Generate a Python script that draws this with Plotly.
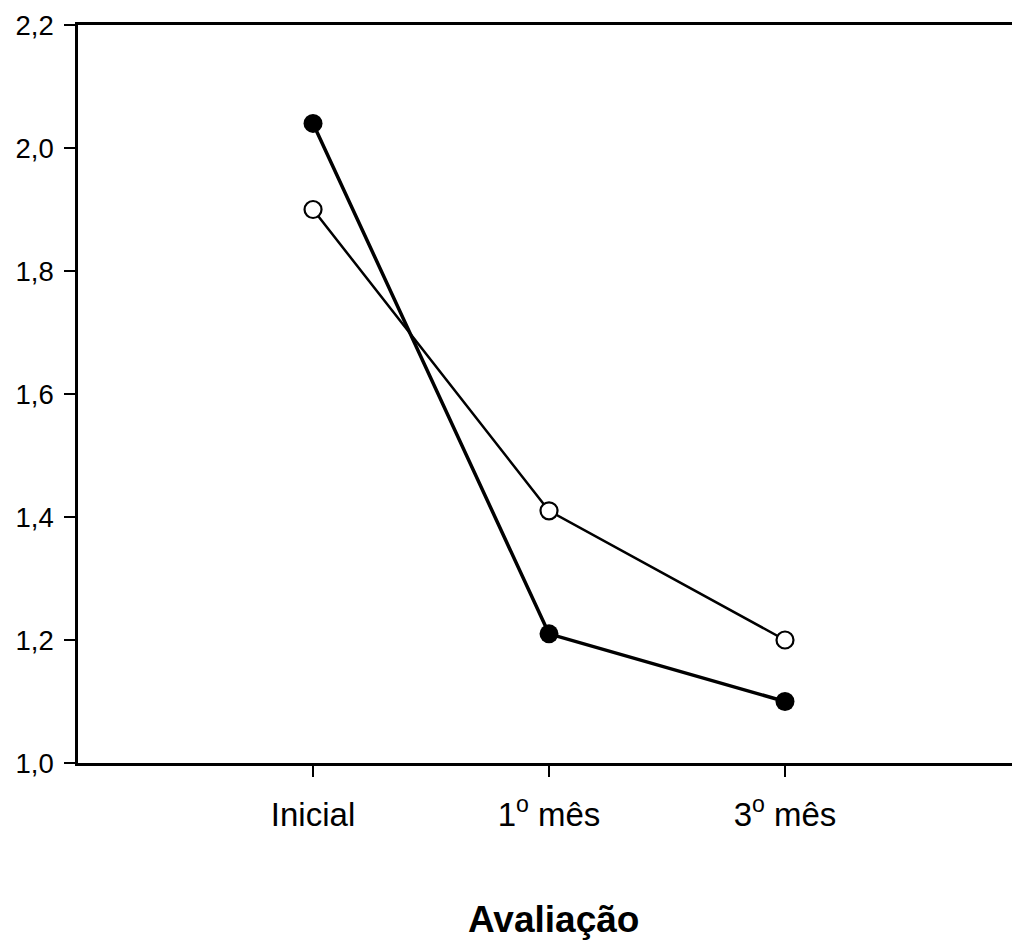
import plotly.graph_objects as go

x_pos = [0, 1, 2]
categories = ["Inicial", "1<sup>o</sup> mês", "3<sup>o</sup> mês"]
filled_vals = [2.04, 1.21, 1.10]
open_vals = [1.90, 1.41, 1.20]
y_ticks = [1.0, 1.2, 1.4, 1.6, 1.8, 2.0, 2.2]
y_ticktext = ["1,0", "1,2", "1,4", "1,6", "1,8", "2,0", "2,2"]

W, H = 1012, 940
ML, MR, MT, MB = 78, 0, 25, 177

fig = go.Figure()
fig.add_trace(go.Scatter(
    x=x_pos, y=open_vals, mode="lines+markers",
    line=dict(color="black", width=2.5),
    marker=dict(symbol="circle", size=17, color="white", line=dict(color="black", width=2.2)),
    showlegend=False,
))
fig.add_trace(go.Scatter(
    x=x_pos, y=filled_vals, mode="lines+markers",
    line=dict(color="black", width=3.5),
    marker=dict(symbol="circle", size=19, color="black"),
    showlegend=False,
))

plot_w = W - ML - MR
plot_h = H - MT - MB

fig.update_layout(
    width=W, height=H,
    margin=dict(l=ML, r=MR, t=MT, b=MB),
    plot_bgcolor="white", paper_bgcolor="white",
    font=dict(family="Liberation Sans, Arial, sans-serif", color="black"),
    xaxis=dict(
        range=[-0.996, 2.962],
        tickvals=[-1] + x_pos, ticktext=[""] + categories,
        ticks="outside", ticklen=11, tickwidth=2, tickcolor="black",
        showline=True, linecolor="black", linewidth=2.5, mirror=True,
        showgrid=False, zeroline=False,
        tickfont=dict(size=33),
        ticklabelstandoff=10,
    ),
    yaxis=dict(
        range=[1.0, 2.2],
        tickvals=y_ticks, ticktext=y_ticktext,
        ticks="outside", ticklen=11, tickwidth=2, tickcolor="black",
        showline=True, linecolor="black", linewidth=2.5,
        showgrid=False, zeroline=False,
        tickfont=dict(size=27.5),
        ticklabelstandoff=5,
    ),
    annotations=[dict(
        text="<b>Avaliação</b>",
        x=(553 - ML) / plot_w, y=(H - MB - 919) / plot_h,
        xref="paper", yref="paper", xanchor="center", yanchor="middle",
        showarrow=False, font=dict(size=37, color="black"),
    )],
)

fig.write_html(
    "out.html",
    config={"displayModeBar": False},
    post_script="document.body.style.margin='0';document.body.style.overflow='hidden';",
)
